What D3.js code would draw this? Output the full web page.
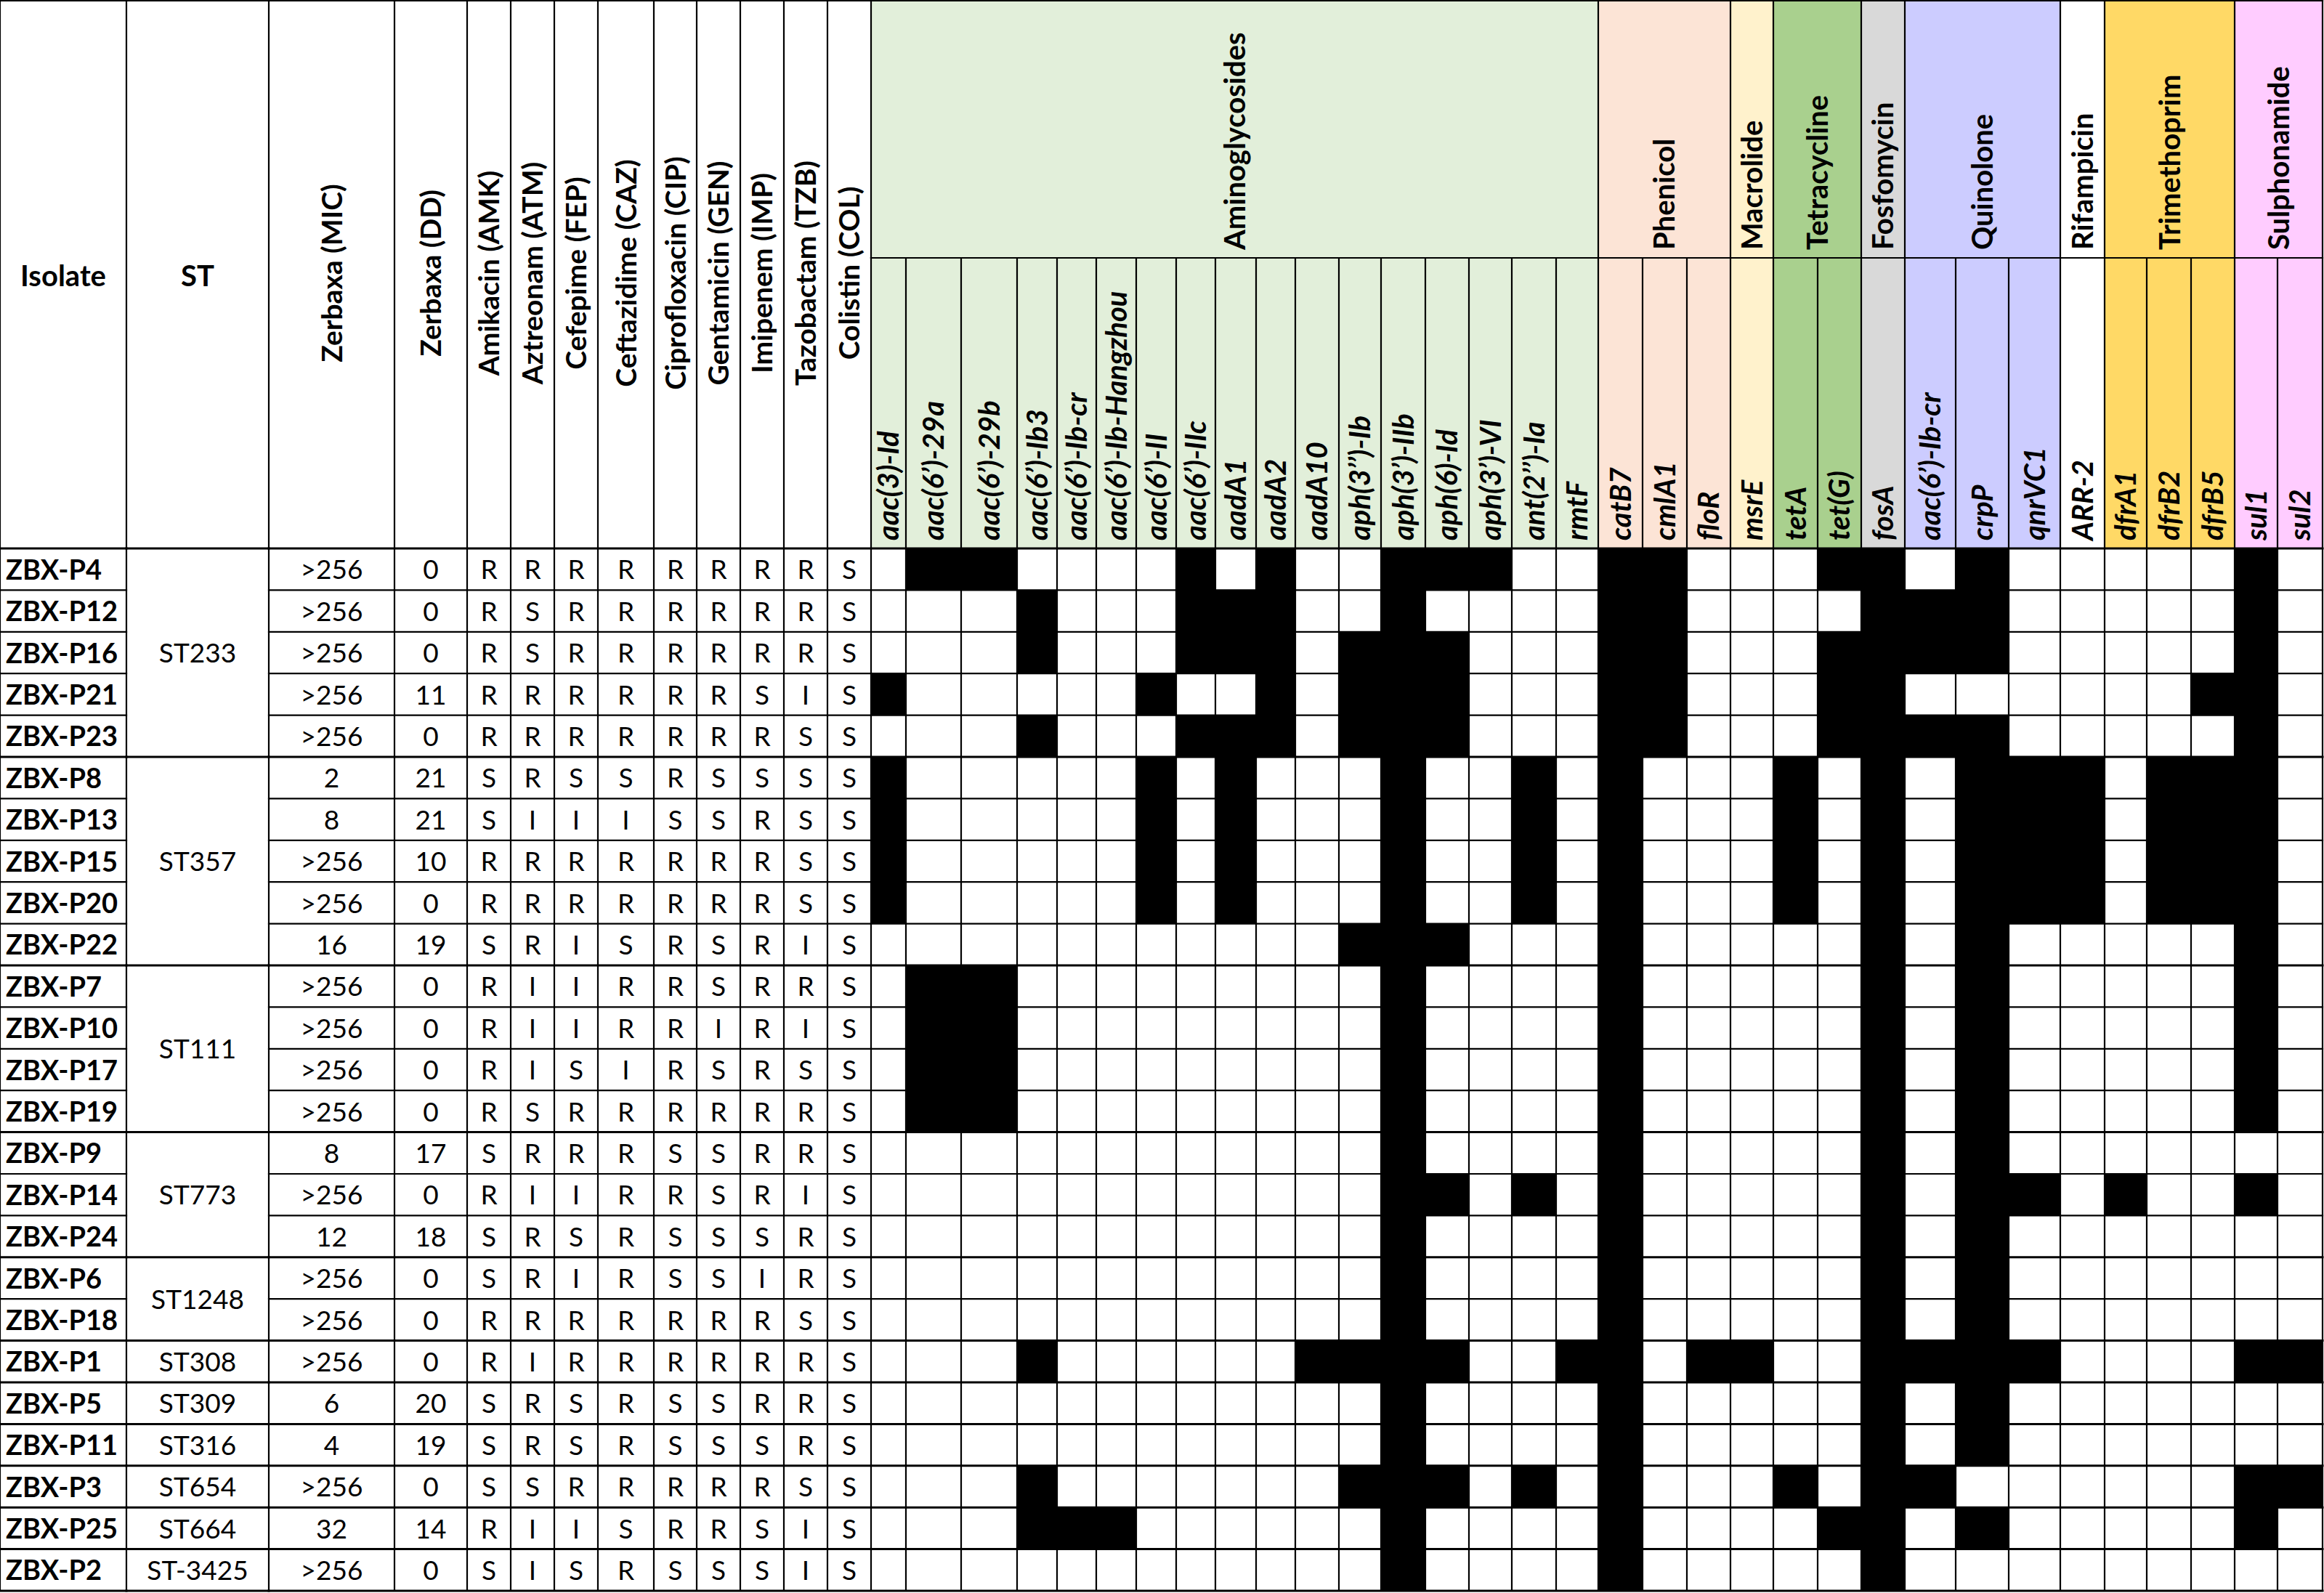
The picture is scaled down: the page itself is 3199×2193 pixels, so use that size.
<!DOCTYPE html>
<html><head><meta charset="utf-8">
<script src="https://cdn.jsdelivr.net/npm/d3@7"></script>
<style>html,body{margin:0;padding:0;background:#fff;} svg{display:block;}</style>
</head><body>
<svg id="chart" width="3199" height="2193"></svg>
<script>
// ---------------- DATA ----------------
const isolates = ["ZBX-P4","ZBX-P12","ZBX-P16","ZBX-P21","ZBX-P23","ZBX-P8","ZBX-P13","ZBX-P15","ZBX-P20","ZBX-P22","ZBX-P7","ZBX-P10","ZBX-P17","ZBX-P19","ZBX-P9","ZBX-P14","ZBX-P24","ZBX-P6","ZBX-P18","ZBX-P1","ZBX-P5","ZBX-P11","ZBX-P3","ZBX-P25","ZBX-P2"];
const sequenceTypes = ["ST233","ST233","ST233","ST233","ST233","ST357","ST357","ST357","ST357","ST357","ST111","ST111","ST111","ST111","ST773","ST773","ST773","ST1248","ST1248","ST308","ST309","ST316","ST654","ST664","ST-3425"];
const zerbaxaMIC = [">256",">256",">256",">256",">256","2","8",">256",">256","16",">256",">256",">256",">256","8",">256","12",">256",">256",">256","6","4",">256","32",">256"];
const zerbaxaDD = ["0","0","0","11","0","21","21","10","0","19","0","0","0","0","17","0","18","0","0","0","20","19","0","14","0"];
const leftHeaderLabels = ["Isolate","ST"];
const zerbaxaLabels = ["Zerbaxa (MIC)","Zerbaxa (DD)"];
const drugLabels = ["Amikacin (AMK)","Aztreonam (ATM)","Cefepime (FEP)","Ceftazidime (CAZ)","Ciprofloxacin (CIP)","Gentamicin (GEN)","Imipenem (IMP)","Tazobactam (TZB)","Colistin (COL)"];
const susceptibility = ["RRRRRRRRS","RSRRRRRRS","RSRRRRRRS","RRRRRRSIS","RRRRRRRSS","SRSSRSSSS","SIIISSRSS","RRRRRRRSS","RRRRRRRSS","SRISRSRIS","RIIRRSRRS","RIIRRIRIS","RISIRSRSS","RSRRRRRRS","SRRRSSRRS","RIIRRSRIS","SRSRSSSRS","SRIRSSIRS","RRRRRRRSS","RIRRRRRRS","SRSRSSRRS","SRSRSSSRS","SSRRRRRSS","RIISRRSIS","SISRSSSIS"];
const geneNames = ["aac(3)-Id","aac(6’)-29a","aac(6’)-29b","aac(6’)-Ib3","aac(6’)-Ib-cr","aac(6’)-Ib-Hangzhou","aac(6’)-II","aac(6’)-IIc","aadA1","aadA2","aadA10","aph(3’’)-Ib","aph(3’)-IIb","aph(6)-Id","aph(3’)-VI","ant(2’’)-Ia","rmtF","catB7","cmlA1","floR","msrE","tetA","tet(G)","fosA","aac(6’)-Ib-cr","crpP","qnrVC1","ARR-2","dfrA1","dfrB2","dfrB5","sul1","sul2"];
const geneClasses = ["Aminoglycosides","Phenicol","Macrolide","Tetracycline","Fosfomycin","Quinolone","Rifampicin","Trimethoprim","Sulphonamide"];
const genesPerClass = [17,3,1,2,1,3,1,3,2];
const genePresence = [
  "01100001010011100"+"1100011010000010", // P4
  "00010001110010000"+"1100001110000010", // P12
  "00010001110111000"+"1100011110000010", // P16
  "10000010010111000"+"1100011000000110", // P21
  "00010001110111000"+"1100011110000010", // P23
  "10000010100010010"+"1000101011101110", // P8
  "10000010100010010"+"1000101011101110", // P13
  "10000010100010010"+"1000101011101110", // P15
  "10000010100010010"+"1000101011101110", // P20
  "00000000000111000"+"1000001010000010", // P22
  "01100000000010000"+"1000001010000010", // P7
  "01100000000010000"+"1000001010000010", // P10
  "01100000000010000"+"1000001010000010", // P17
  "01100000000010000"+"1000001010000010", // P19
  "00000000000010000"+"1000001010000000", // P9
  "00000000000011010"+"1000001011010010", // P14
  "00000000000010000"+"1000001010000000", // P24
  "00000000000010000"+"1000001010000000", // P6
  "00000000000010000"+"1000001010000000", // P18
  "00010000001111001"+"1011001111000011", // P1
  "00000000000010000"+"1000001010000000", // P5
  "00000000000010000"+"1000001010000000", // P11
  "00010000000111010"+"1000101100000011", // P3
  "00011100000010000"+"1000011010000010", // P25
  "00000000000010000"+"1000001000000000"  // P2
];

// ---------------- LAYOUT / STYLE ----------------
const tableLeft = 0, tableTop = 0, classBandBottom = 355, headerBottom = 755, tableBottom = 2190;
const leftColWidths = [174,196,173,100,60,60,60,77,59,60,60,60,60];
const geneColWidths = [48,76,77,55,54,55,55,54,56,54,60,58,61,60,59,61,58,61,61,60,59,61,60,60,70,73,71,61,58,61,60,59,62];
const classFills = ["#E2EFDA","#FCE4D6","#FFF2CC","#A9D08E","#D9D9D9","#CCCCFF","#FFFFFF","#FFD966","#FFCCFF"];
const FONT = "Lato, 'Open Sans', 'DejaVu Sans', sans-serif";
const LINE = 2.2;

const svg = d3.select("#chart");
svg.append("rect").attr("width",3199).attr("height",2193).attr("fill","#fff");

const leftKeys = ["isolate","st","mic","dd"].concat(drugLabels.map((d,i)=>"drug"+i));
const geneKeys = geneNames.map((d,i)=>"gene"+i);
const allKeys = leftKeys.concat(geneKeys);
const allWidths = leftColWidths.concat(geneColWidths);
const lefts = allWidths.map((w,i)=> tableLeft + d3.sum(allWidths.slice(0,i)));
const tableRight = tableLeft + d3.sum(allWidths);
const x = d3.scaleOrdinal().domain(allKeys).range(lefts);
const colW = d3.scaleOrdinal().domain(allKeys).range(allWidths);
const cx = k => x(k) + colW(k)/2;
const y = d3.scaleBand().domain(isolates).range([headerBottom, tableBottom]);
const classColor = d3.scaleOrdinal().domain(geneClasses).range(classFills);

// class spans
const classStart = genesPerClass.map((n,i)=> d3.sum(genesPerClass.slice(0,i)));
const classSpans = geneClasses.map((c,i)=>{
  const k0 = geneKeys[classStart[i]], k1 = geneKeys[classStart[i]+genesPerClass[i]-1];
  return {name:c, x0:x(k0), x1:x(k1)+colW(k1)};
});

// header fills
svg.append("g").selectAll("rect").data(classSpans).join("rect")
  .attr("x",d=>d.x0).attr("y",tableTop).attr("width",d=>d.x1-d.x0).attr("height",headerBottom-tableTop)
  .attr("fill",d=>classColor(d.name));

// gene presence cells
const cells = [];
isolates.forEach((iso,r)=> geneKeys.forEach((g,c)=> cells.push({iso, g, v: genePresence[r][c]==="1"})));
svg.append("g").selectAll("rect").data(cells).join("rect")
  .attr("x",d=>x(d.g)).attr("y",d=>y(d.iso)).attr("width",d=>colW(d.g)).attr("height",y.bandwidth())
  .attr("fill",d=>d.v?"#000":"#fff");

// grid lines
const lines = [];
const rowY = i => i===isolates.length ? tableBottom : y(isolates[i]);
for(let i=0;i<=isolates.length;i++){
  const yy = rowY(i);
  const groupEdge = i===0 || i===isolates.length || sequenceTypes[i]!==sequenceTypes[i-1];
  const w = groupEdge ? 3 : LINE;
  lines.push({x1:tableLeft,x2:x("st"),y1:yy,y2:yy,w});
  if(groupEdge) lines.push({x1:x("st"),x2:x("mic"),y1:yy,y2:yy,w});
  lines.push({x1:x("mic"),x2:tableRight,y1:yy,y2:yy,w});
}
// verticals in body
lefts.concat([tableRight]).forEach(xx=> lines.push({x1:xx,x2:xx,y1:headerBottom,y2:tableBottom,w:LINE}));
// verticals in header, left table
leftKeys.forEach(k=> lines.push({x1:x(k),x2:x(k),y1:tableTop,y2:headerBottom,w:LINE}));
// gene header verticals (lower band)
geneKeys.forEach(k=> lines.push({x1:x(k),x2:x(k),y1:classBandBottom,y2:headerBottom,w:LINE}));
// class boundaries (upper band)
classSpans.forEach(s=> lines.push({x1:s.x0,x2:s.x0,y1:tableTop,y2:classBandBottom,w:LINE}));
lines.push({x1:tableRight,x2:tableRight,y1:tableTop,y2:headerBottom,w:LINE});
lines.push({x1:tableLeft,x2:tableRight,y1:tableTop+1,y2:tableTop+1,w:LINE});
lines.push({x1:x("gene0"),x2:tableRight,y1:classBandBottom,y2:classBandBottom,w:LINE});

svg.append("g").selectAll("line").data(lines).join("line")
  .attr("x1",d=>d.x1).attr("x2",d=>d.x2).attr("y1",d=>d.y1).attr("y2",d=>d.y2)
  .attr("stroke","#000").attr("stroke-width",d=>d.w).attr("stroke-linecap","square");

// ---------------- TEXT ----------------
const T = svg.append("g").attr("font-family",FONT).attr("fill","#000");

// left header horizontal
T.selectAll("text.lh").data(leftHeaderLabels).join("text").attr("class","lh")
  .attr("x",(d,i)=>cx(leftKeys[i])).attr("y",380).attr("dy","0.36em")
  .attr("text-anchor","middle").attr("font-weight",700).attr("font-size",40).text(d=>d);

// rotated drug headers
const rotHeaders = zerbaxaLabels.concat(drugLabels);
T.selectAll("text.rh").data(rotHeaders).join("text").attr("class","rh")
  .attr("transform",(d,i)=>`translate(${cx(leftKeys[i+2])},376) rotate(-90)`)
  .attr("dy","0.36em").attr("text-anchor","middle").attr("font-weight",700).attr("font-size",39).text(d=>d);

// class labels
T.selectAll("text.cl").data(classSpans).join("text").attr("class","cl")
  .attr("transform",d=>`translate(${(d.x0+d.x1)/2},344) rotate(-90)`)
  .attr("dy","0.36em").attr("text-anchor","start").attr("font-weight",700).attr("font-size",40).text(d=>d.name);

// gene labels
T.selectAll("text.gl").data(geneNames).join("text").attr("class","gl")
  .attr("transform",(d,i)=>`translate(${cx(geneKeys[i])},744) rotate(-90)`)
  .attr("dy","0.36em").attr("text-anchor","start").attr("font-weight",700).attr("font-style","italic")
  .attr("font-size",40).text(d=>d);

// body: isolate names
T.selectAll("text.iso").data(isolates).join("text").attr("class","iso")
  .attr("x",x("isolate")+8).attr("y",d=>y(d)+y.bandwidth()/2).attr("dy","0.37em")
  .attr("font-weight",700).attr("font-size",38).text(d=>d);

// ST merged groups
const stGroups = [];
sequenceTypes.forEach((s,i)=>{
  if(i===0 || s!==sequenceTypes[i-1]) stGroups.push({st:s, first:i, last:i});
  else stGroups[stGroups.length-1].last = i;
});
T.selectAll("text.st").data(stGroups).join("text").attr("class","st")
  .attr("x",cx("st")).attr("y",d=>(y(isolates[d.first]) + y(isolates[d.last]) + y.bandwidth())/2).attr("dy","0.37em")
  .attr("text-anchor","middle").attr("font-size",37).text(d=>d.st);

// MIC and DD
T.selectAll("text.mic").data(zerbaxaMIC).join("text").attr("class","mic")
  .attr("x",cx("mic")).attr("y",(d,i)=>y(isolates[i])+y.bandwidth()/2).attr("dy","0.37em")
  .attr("text-anchor","middle").attr("font-size",37).text(d=>d);
T.selectAll("text.dd").data(zerbaxaDD).join("text").attr("class","dd")
  .attr("x",cx("dd")).attr("y",(d,i)=>y(isolates[i])+y.bandwidth()/2).attr("dy","0.37em")
  .attr("text-anchor","middle").attr("font-size",37).text(d=>d);

// susceptibility letters
const sir = [];
isolates.forEach((iso,r)=> drugLabels.forEach((dl,c)=> sir.push({iso, k:"drug"+c, v:susceptibility[r][c]})));
T.selectAll("text.sir").data(sir).join("text").attr("class","sir")
  .attr("x",d=>cx(d.k)).attr("y",d=>y(d.iso)+y.bandwidth()/2).attr("dy","0.37em")
  .attr("text-anchor","middle").attr("font-size",37).text(d=>d.v);
</script>
</body></html>
